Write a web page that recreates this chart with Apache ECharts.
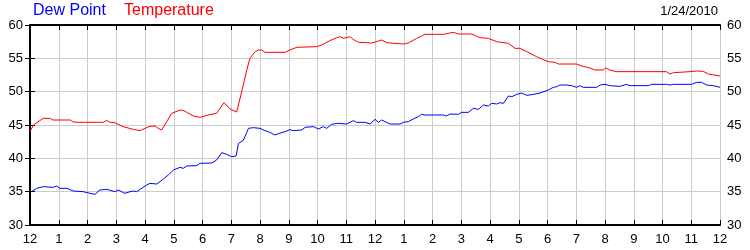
<!DOCTYPE html>
<html><head><meta charset="utf-8">
<script src="https://cdn.jsdelivr.net/npm/echarts@6/dist/echarts.min.js"></script>
<style>html,body{margin:0;padding:0;background:#fff}#c{width:750px;height:250px}</style>
</head><body><div id="c"></div>
<script>
var titleDate = "1/24/2010";
var seriesNames = ["Dew Point", "Temperature"];
var hourTickLabels = ["12","1","2","3","4","5","6","7","8","9","10","11","12","1","2","3","4","5","6","7","8","9","10","11","12"];
var yTicks = [30, 35, 40, 45, 50, 55, 60];

var tempHours = [0.00,0.12,0.46,0.70,0.80,1.40,1.50,1.70,1.76,1.90,2.55,2.67,2.78,2.95,3.24,3.59,3.83,4.00,4.17,4.35,4.46,4.58,4.93,5.22,5.33,5.68,5.91,6.20,6.49,6.75,6.96,7.19,7.25,7.42,7.54,7.65,7.83,7.94,8.06,8.17,8.87,9.04,9.28,9.97,10.15,10.43,10.67,10.78,10.90,11.13,11.24,11.42,11.71,11.88,12.12,12.23,12.41,12.64,12.99,13.16,13.45,13.62,13.74,14.38,14.43,14.72,14.90,15.36,15.65,15.94,16.23,16.64,16.87,17.04,17.28,17.62,17.80,18.03,18.26,18.38,19.01,19.19,19.48,19.65,19.94,20.03,20.17,20.40,22.14,22.26,22.38,22.96,23.19,23.42,23.59,24.00];
var tempValues = [44.0,45.0,46.0,46.0,45.75,45.75,45.45,45.4,45.1,45.4,45.4,45.7,45.4,45.35,44.75,44.35,44.15,44.5,44.8,44.85,44.5,44.25,46.75,47.25,47.2,46.35,46.15,46.5,46.75,48.35,47.4,46.95,47.2,51.0,53.25,55.0,56.0,56.25,56.25,55.9,55.9,56.25,56.65,56.75,57.0,57.65,58.1,58.25,58.0,58.25,57.85,57.4,57.35,57.3,57.6,57.75,57.35,57.25,57.15,57.3,58.0,58.35,58.6,58.6,58.9,58.9,58.65,58.65,58.1,58.0,57.5,57.25,56.5,56.5,56.0,55.25,54.9,54.5,54.4,54.15,54.15,53.85,53.55,53.25,53.25,53.55,53.25,53.0,53.0,52.65,52.85,53.0,53.1,53.05,52.65,52.35];

var dewHours = [0.00,0.23,0.46,0.81,0.93,1.04,1.28,1.51,1.85,2.09,2.26,2.43,2.67,2.96,3.07,3.30,3.48,3.59,3.71,3.83,4.06,4.17,4.41,4.64,4.81,4.99,5.22,5.33,5.45,5.80,5.91,6.32,6.49,6.67,6.84,7.01,7.17,7.25,7.42,7.60,7.77,8.00,8.17,8.29,8.52,8.64,8.87,9.04,9.16,9.45,9.57,9.86,10.03,10.20,10.32,10.49,10.72,11.01,11.25,11.36,11.65,11.83,12.00,12.12,12.23,12.35,12.41,12.52,12.87,12.99,13.16,13.33,13.51,13.62,13.74,14.38,14.49,14.61,14.90,15.01,15.25,15.42,15.60,15.77,15.94,16.06,16.23,16.35,16.47,16.64,16.76,16.93,17.10,17.28,17.51,17.74,18.03,18.20,18.32,18.43,18.67,18.84,19.01,19.13,19.24,19.71,19.83,20.00,20.17,20.52,20.75,20.87,21.51,21.62,22.14,22.26,22.38,23.01,23.19,23.36,23.54,23.77,24.00];
var dewValues = [34.85,35.5,35.75,35.65,35.85,35.5,35.5,35.1,35.0,34.75,34.6,35.25,35.35,35.0,35.25,34.75,35.0,35.1,35.0,35.35,36.0,36.25,36.15,36.9,37.5,38.25,38.65,38.5,38.85,38.9,39.25,39.3,39.75,40.85,40.6,40.25,40.35,42.25,42.7,44.5,44.6,44.5,44.15,44.0,43.5,43.7,44.0,44.3,44.15,44.25,44.65,44.75,44.4,44.75,44.5,45.1,45.25,45.15,45.65,45.4,45.4,45.15,45.85,45.4,45.75,45.5,45.75,45.15,45.15,45.4,45.5,45.9,46.25,46.6,46.5,46.5,46.35,46.65,46.6,46.9,46.9,47.5,47.35,48.0,47.85,48.25,48.15,48.35,48.25,49.35,49.25,49.6,49.8,49.45,49.6,49.8,50.25,50.65,50.75,51.0,51.0,50.9,50.65,50.9,50.65,50.65,51.0,51.1,50.9,50.8,51.1,50.9,50.9,51.1,51.1,51.0,51.1,51.1,51.4,51.4,51.0,50.9,50.65];

function pairs(xs, ys){ return xs.map(function(x,i){ return [x, ys[i]]; }); }

var chart = echarts.init(document.getElementById('c'), null, {renderer:'canvas'});
var FONT = 'Liberation Sans, Arial, sans-serif';
var yMin = yTicks[0], yMax = yTicks[yTicks.length-1];
var gridLine = {show:true, lineStyle:{color:'#cccccc', width:1}};
var axLine = {show:true, lineStyle:{color:'#000', width:2}};
var tick = {show:true, inside:true, length:5, lineStyle:{color:'#000'}};
chart.setOption({
  animation:false,
  backgroundColor:'#fff',
  grid:{left:30, right:30, top:25, bottom:25, containLabel:false},
  graphic:[
    {type:'text', left:33, top:3, style:{text:seriesNames[0], fill:'#0000ff', font:'16px '+FONT}},
    {type:'text', left:124, top:3, style:{text:seriesNames[1], fill:'#ff0000', font:'16px '+FONT}},
    {type:'text', right:32, top:5, style:{text:titleDate, fill:'#000', font:'13px '+FONT, textAlign:'right'}}
  ],
  xAxis:[
    {type:'value', position:'bottom', min:0, max:24, interval:1,
     axisLine:axLine, axisTick:tick, splitLine:gridLine,
     axisLabel:{color:'#000', fontSize:13, fontFamily:FONT, margin:8,
       formatter:function(v){ return hourTickLabels[Math.round(v)]; }}},
    {type:'value', position:'top', min:0, max:24, interval:1,
     axisLine:axLine, axisTick:tick, splitLine:{show:false}, axisLabel:{show:false}}
  ],
  yAxis:[
    {type:'value', position:'left', min:yMin, max:yMax, interval:5,
     axisLine:axLine, axisTick:tick, splitLine:gridLine,
     axisLabel:{color:'#000', fontSize:13, fontFamily:FONT, margin:7}},
    {type:'value', position:'right', min:yMin, max:yMax, interval:5,
     axisLine:axLine, axisTick:tick, splitLine:{show:false},
     axisLabel:{color:'#000', fontSize:13, fontFamily:FONT, margin:7}}
  ],
  series:[
    {name:seriesNames[0], type:'line', xAxisIndex:0, yAxisIndex:0, data:pairs(dewHours, dewValues),
     showSymbol:false, lineStyle:{color:'#0000ff', width:1}, itemStyle:{color:'#0000ff'}},
    {name:seriesNames[1], type:'line', xAxisIndex:0, yAxisIndex:0, data:pairs(tempHours, tempValues),
     showSymbol:false, lineStyle:{color:'#ff0000', width:1}, itemStyle:{color:'#ff0000'}}
  ]
});
</script></body></html>
